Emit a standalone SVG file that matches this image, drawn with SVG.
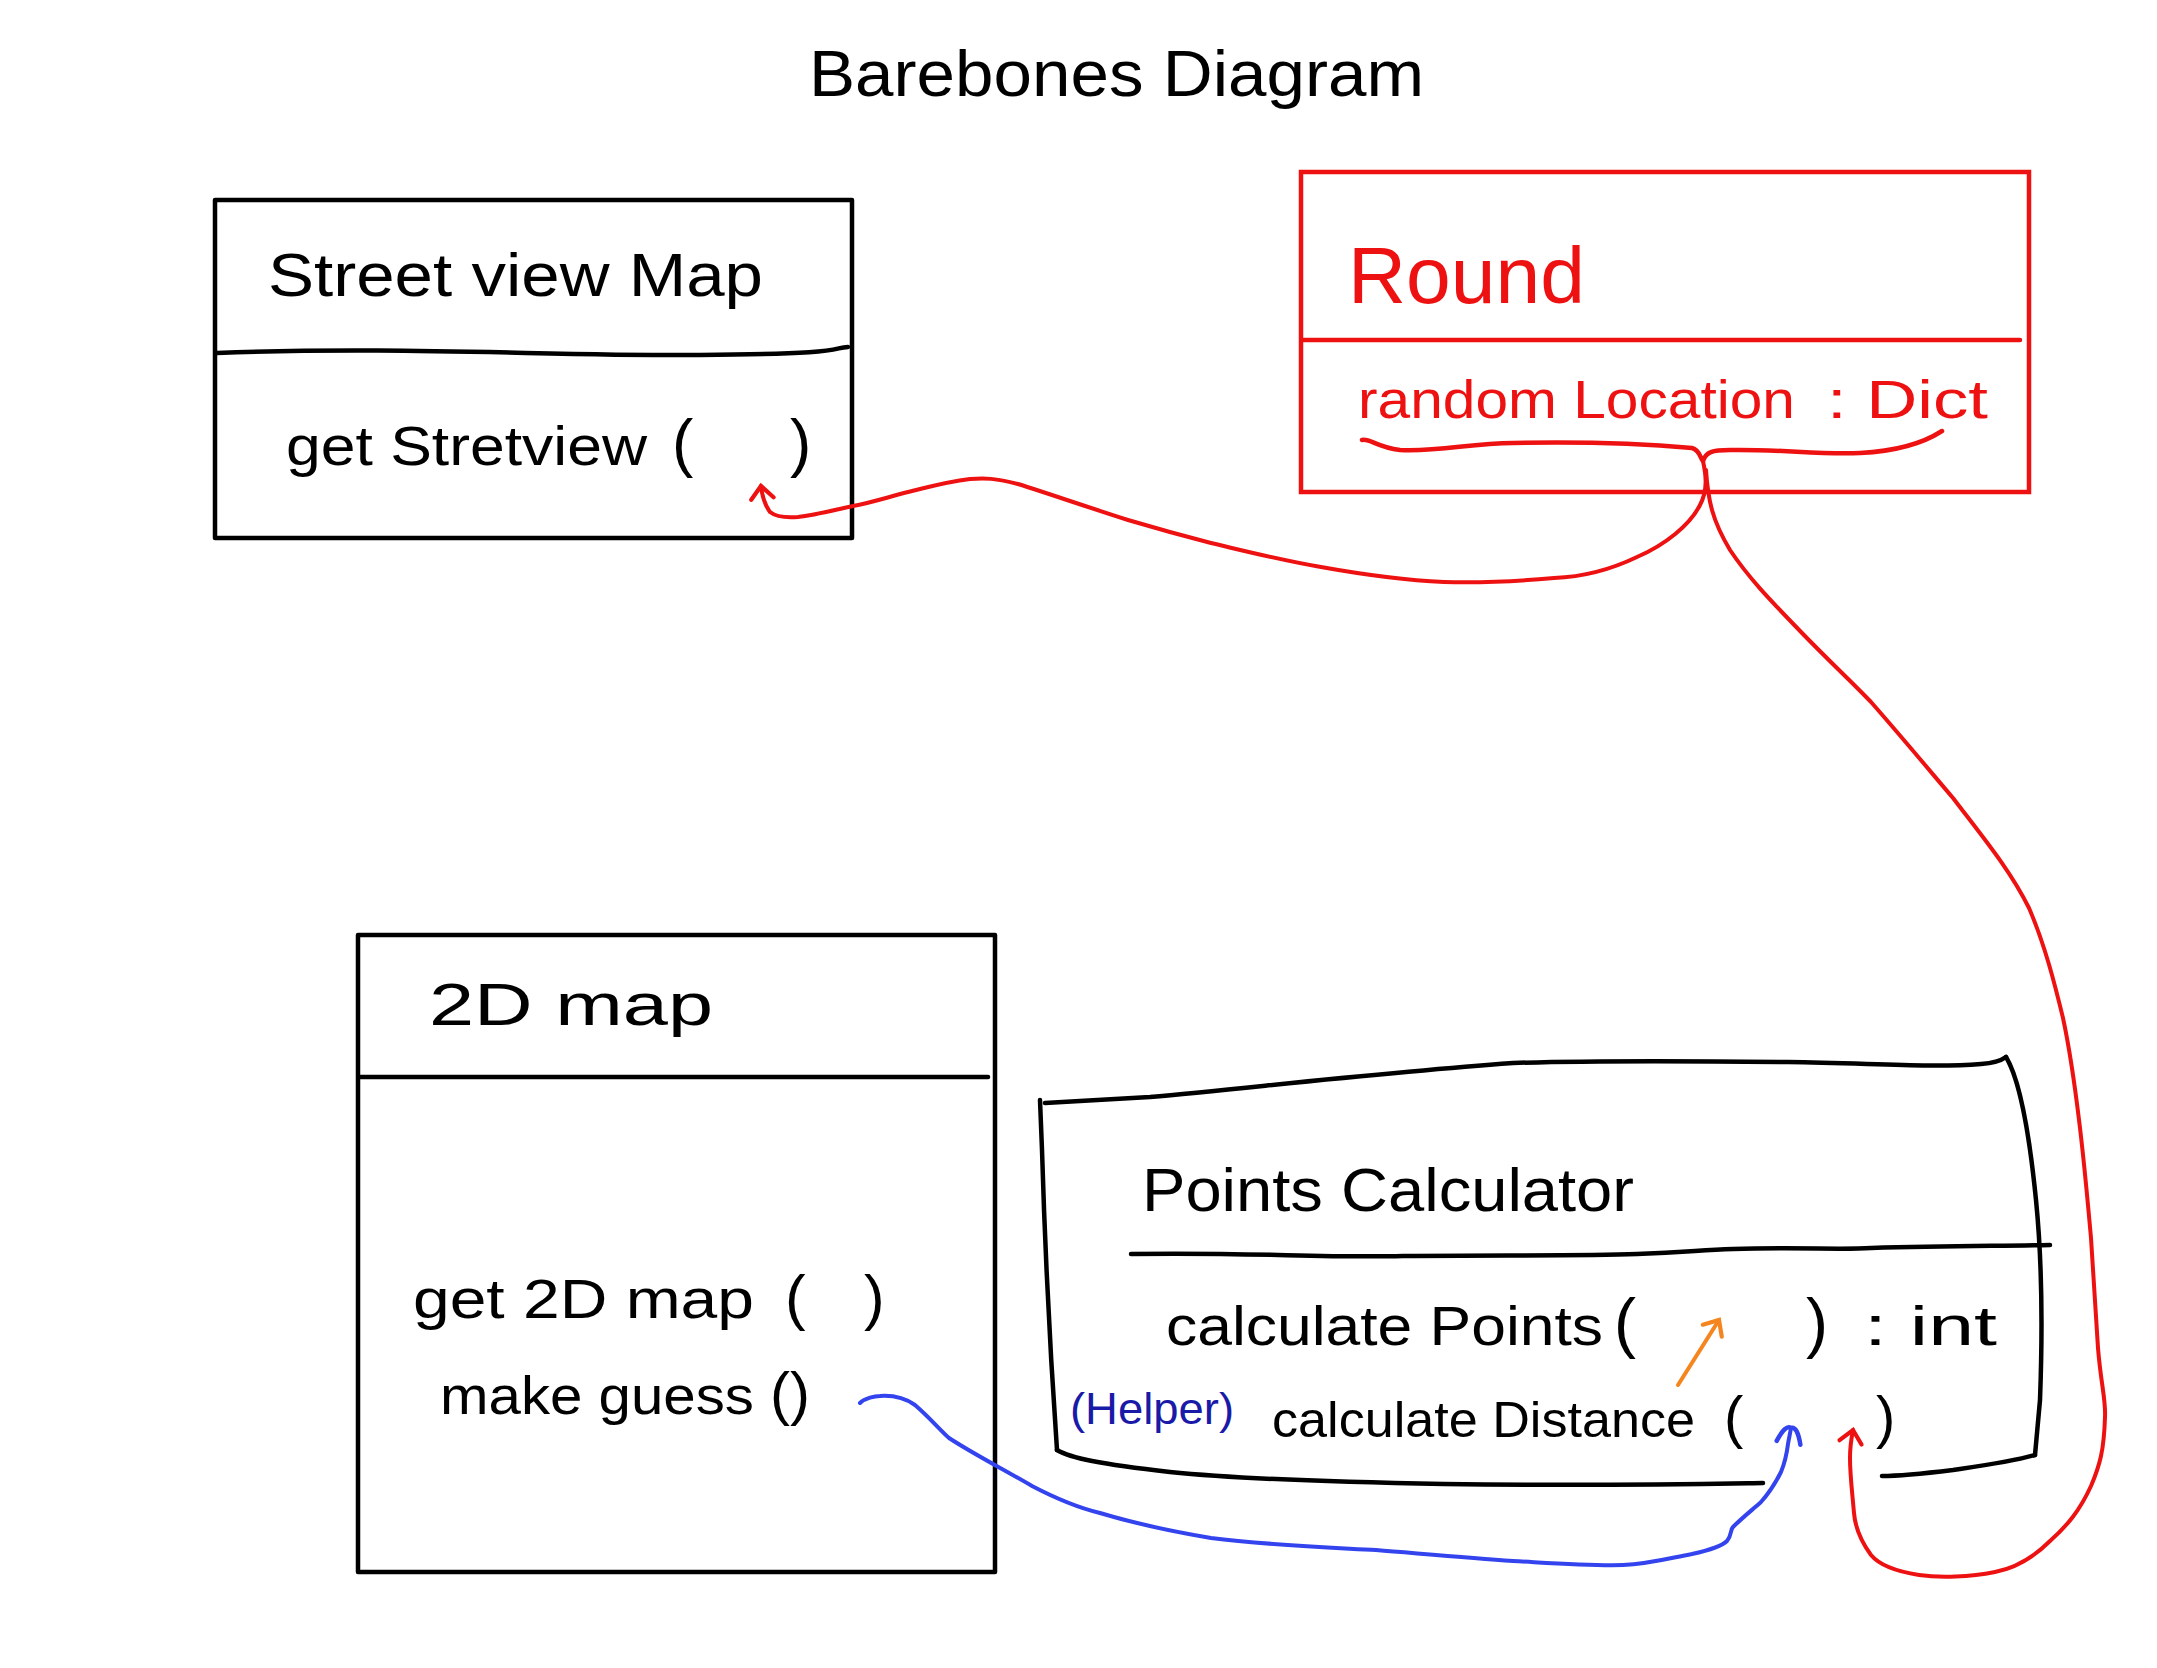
<svg xmlns="http://www.w3.org/2000/svg" width="2157" height="1668" viewBox="0 0 2157 1668">
<style>
text{font-family:"Liberation Sans","DejaVu Sans",sans-serif;fill:#000}
.box{fill:none;stroke:#000;stroke-width:4.5;stroke-linecap:round;stroke-linejoin:round}
.rbox{fill:none;stroke:#ee1111;stroke-width:4.5;stroke-linecap:round}
.rt{fill:#ee1111}
.con{fill:none;stroke-width:4;stroke-linecap:round;stroke-linejoin:round}
</style>
<defs>
<marker id="aRed" viewBox="0 0 20 20" refX="12" refY="10" markerWidth="28" markerHeight="28" markerUnits="userSpaceOnUse" orient="auto"><path d="M3,2 L12,10 L3,18" fill="none" stroke="#ee1111" stroke-width="3" stroke-linecap="round"/></marker>
<marker id="aBlue" viewBox="0 0 20 20" refX="12" refY="10" markerWidth="30" markerHeight="30" markerUnits="userSpaceOnUse" orient="auto"><path d="M2,2 Q14,6 12,10 Q14,14 2,18" fill="none" stroke="#3344ee" stroke-width="3" stroke-linecap="round"/></marker>
<marker id="aOrange" viewBox="0 0 20 20" refX="12" refY="10" markerWidth="28" markerHeight="28" markerUnits="userSpaceOnUse" orient="auto"><path d="M3,2 L12,10 L3,18" fill="none" stroke="#f5851f" stroke-width="3" stroke-linecap="round"/></marker>
</defs>

<g id="title">
<text x="809" y="96" font-size="64" textLength="615" lengthAdjust="spacingAndGlyphs">Barebones Diagram</text>
</g>

<g id="streetview-map">
<rect class="box" x="215" y="200" width="637" height="338"/>
<path class="box" d="M217,353 C400,346 550,356 700,355 S830,348 848,347"/>
<text x="268" y="296" font-size="62" textLength="495" lengthAdjust="spacingAndGlyphs">Street view Map</text>
<text y="465" font-size="56"><tspan x="286" textLength="361" lengthAdjust="spacingAndGlyphs">get Stretview</tspan><tspan x="672" font-size="64">(</tspan><tspan x="790" font-size="64">)</tspan></text>
</g>

<g id="round">
<rect class="rbox" x="1301" y="172" width="728" height="320"/>
<path class="rbox" d="M1303,340 L2020,340"/>
<text class="rt" x="1348" y="303" font-size="80" textLength="237" lengthAdjust="spacingAndGlyphs">Round</text>
<text class="rt" y="418" font-size="54"><tspan x="1358" textLength="437" lengthAdjust="spacingAndGlyphs">random Location</tspan><tspan x="1827" textLength="161" lengthAdjust="spacingAndGlyphs">: Dict</tspan></text>
<path class="rbox" d="M1362,440 C1370,438 1376,447 1400,450 C1440,452 1470,443 1513,443 C1560,442 1623,442 1692,448 C1700,450 1700,458 1703,461 C1706,452 1712,450 1730,450 C1780,449 1820,455 1860,453 C1900,451 1925,442 1942,431"/>
</g>

<g id="map2d">
<rect class="box" x="358" y="935" width="637" height="637"/>
<path class="box" d="M360,1077 L988,1077"/>
<text x="429" y="1025" font-size="60" textLength="284" lengthAdjust="spacingAndGlyphs">2D map</text>
<text y="1318" font-size="56"><tspan x="413" textLength="341" lengthAdjust="spacingAndGlyphs">get 2D map</tspan><tspan x="785" font-size="62">(</tspan><tspan x="864" font-size="62">)</tspan></text>
<text y="1414" font-size="54"><tspan x="440" textLength="314" lengthAdjust="spacingAndGlyphs">make guess</tspan><tspan x="770" font-size="60">()</tspan></text>
</g>

<g id="points-calculator">
<path class="box" d="M1045,1103 C1060,1102 1100,1100 1150,1097 C1250,1088 1376,1073 1513,1063 C1600,1060 1700,1061 1788,1062 C1870,1063 1930,1068 1981,1064 C1995,1063 2002,1060 2006,1057"/>
<path class="box" d="M2006,1057 C2020,1080 2030,1140 2036,1200 C2042,1260 2043,1320 2040,1400 L2035,1455"/>
<path class="box" d="M2035,1455 C2010,1462 1980,1466 1953,1470 C1920,1474 1900,1476 1882,1476"/>
<path class="box" d="M1763,1483 C1700,1484 1600,1486 1444,1484 C1330,1482 1238,1479 1170,1472 C1100,1464 1070,1458 1057,1450"/>
<path class="box" d="M1057,1450 C1050,1350 1045,1250 1042,1150 L1040,1100"/>
<path class="box" d="M1131,1254 C1250,1252 1320,1258 1403,1256 C1500,1255 1580,1256 1637,1254 C1690,1252 1700,1250 1733,1249 C1800,1247 1840,1250 1871,1248 C1950,1246 2000,1246 2050,1245"/>
<text x="1142" y="1211" font-size="62" textLength="492" lengthAdjust="spacingAndGlyphs">Points Calculator</text>
<text y="1345" font-size="56"><tspan x="1166" textLength="437" lengthAdjust="spacingAndGlyphs">calculate Points</tspan><tspan x="1614" font-size="66">(</tspan><tspan x="1806" font-size="66">)</tspan><tspan x="1864" textLength="133" lengthAdjust="spacingAndGlyphs">: int</tspan></text>
<text x="1070" y="1424" font-size="44" fill="#1a1aa8" style="fill:#1a1aa8" textLength="164" lengthAdjust="spacingAndGlyphs">(Helper)</text>
<text y="1437" font-size="50"><tspan x="1272" textLength="423" lengthAdjust="spacingAndGlyphs">calculate Distance</tspan><tspan x="1724" font-size="58">(</tspan><tspan x="1876" font-size="58">)</tspan></text>
</g>

<g id="connectors">
<path class="con" stroke="#ee1111" marker-end="url(#aRed)" d="M1703,461 C1706,475 1708,490 1700,505 C1690,525 1665,545 1637,557 C1610,570 1580,577 1554,578 C1510,582 1480,583 1444,582 C1400,580 1360,574 1321,567 C1280,560 1245,551 1211,543 C1180,535 1155,528 1128,520 C1090,508 1050,494 1018,484 C995,478 985,478 970,479 C945,482 925,488 908,492 C885,498 870,503 853,506 C830,511 815,515 798,517 C785,518 775,516 770,512 C765,505 762,495 761,486"/>
<path class="con" stroke="#ee1111" marker-end="url(#aRed)" d="M1706,470 C1708,500 1712,520 1730,550 C1750,580 1775,605 1802,633 C1830,662 1850,680 1871,702 C1900,735 1925,765 1953,798 C1985,840 2010,870 2029,908 C2045,945 2055,985 2063,1018 C2072,1060 2076,1095 2080,1128 C2085,1170 2088,1205 2091,1238 C2094,1280 2096,1315 2098,1348 C2101,1385 2106,1400 2105,1417 C2104,1450 2100,1465 2091,1486 C2080,1510 2068,1525 2050,1541 C2035,1556 2015,1568 1995,1572 C1970,1577 1940,1578 1919,1575 C1900,1572 1880,1566 1871,1555 C1860,1540 1855,1525 1854,1513 C1852,1490 1850,1475 1850,1458 C1850,1448 1851,1440 1853,1430"/>
<path class="con" stroke="#3344ee" marker-end="url(#aBlue)" d="M860,1403 C865,1398 875,1396 880,1396 C895,1395 905,1398 915,1405 C930,1418 940,1430 949,1438 C975,1455 1005,1470 1032,1486 C1055,1498 1075,1507 1100,1513 C1140,1525 1175,1532 1211,1538 C1265,1545 1320,1547 1376,1550 C1425,1554 1470,1558 1513,1561 C1550,1563 1590,1566 1623,1565 C1650,1564 1670,1558 1692,1554 C1710,1550 1722,1546 1727,1541 C1732,1535 1730,1530 1733,1527 C1742,1518 1752,1510 1761,1502 C1770,1492 1776,1482 1781,1472 C1786,1460 1787,1452 1788,1444 C1789,1438 1790,1434 1791,1428"/>
<path class="con" stroke="#f5851f" marker-end="url(#aOrange)" d="M1678,1385 L1719,1320"/>
</g>
</svg>
